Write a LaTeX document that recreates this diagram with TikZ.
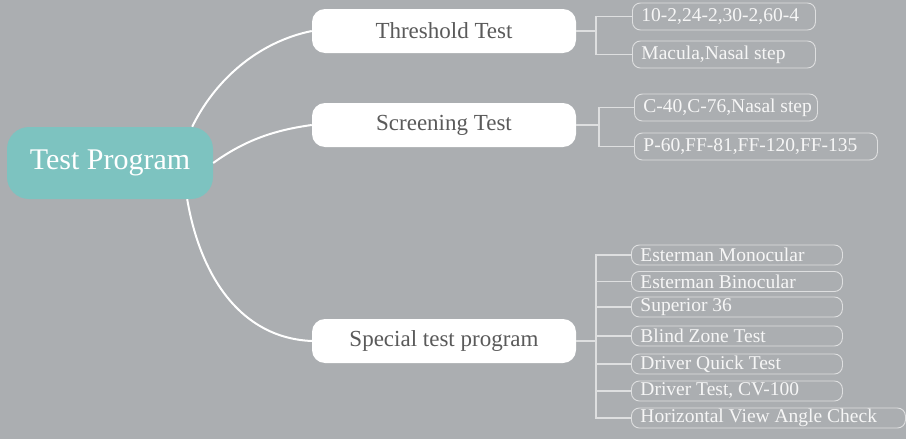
\documentclass[tikz,border=0pt]{standalone}
\usepackage{fontspec}
\setmainfont{Liberation Serif}
\usetikzlibrary{calc}
\definecolor{bg}{RGB}{171,174,177}
\definecolor{teal}{RGB}{125,195,192}
\definecolor{leafline}{RGB}{222,223,224}
\definecolor{leaftext}{RGB}{246,246,246}
\definecolor{midtext}{RGB}{90,90,90}
\newcommand{\lbx}[2]{\makebox[#1][l]{#2}}
\begin{document}
\begin{tikzpicture}[x=1pt,y=-1pt,
  rootbox/.style={fill=teal, rounded corners=22pt, minimum width=206pt, minimum height=72pt,
    inner sep=0pt, text=white, font=\fontsize{30}{30}\selectfont},
  midbox/.style={fill=white, rounded corners=13pt, minimum width=264pt, minimum height=44pt,
    inner sep=0pt, text=midtext, font=\fontsize{23}{23}\selectfont},
  leaf/.style={draw=leafline, line width=0.9pt, rounded corners=8pt, anchor=west,
    inner xsep=9pt, inner ysep=0pt, text=leaftext, font=\fontsize{19.5}{19.5}\selectfont},
  leafa/.style={leaf, minimum height=27pt},
  leafb/.style={leaf, minimum height=20pt},
  main/.style={draw=white, line width=2pt},
  br/.style={draw=leafline, line width=1.6pt}]
\fill[bg] (0,0) rectangle (906,439);
\useasboundingbox (0,0) rectangle (906,439);

\node[rootbox] (root) at (110,163) {Test Program};
\node[midbox] (thr) at (444,31) {Threshold Test};
\node[midbox] (scr) at (444,125) {Screening Test};
\node[midbox] (spc) at (444,341) {Special test program};

\draw[main] ($(root.north east)+(-21,0)$) .. controls (215,80) and (258,42) .. (thr.west);
\draw[main] (root.east) .. controls (245,140) and (275,130) .. (scr.west);
\draw[main] ($(root.south east)+(-26,0)$) .. controls (200,275) and (240,338) .. (spc.west);

\node[leafa] (t1) at (632,16.5) {\lbx{165pt}{10-2,24-2,30-2,60-4}};
\node[leafa] (t2) at (632,54.5) {\lbx{165pt}{Macula,Nasal step}};
\node[leafa] (s1) at (634,107.5) {\lbx{165pt}{C-40,C-76,Nasal step}};
\node[leafa] (s2) at (634,146.5) {\lbx{225pt}{P-60,FF-81,FF-120,FF-135}};

\node[leafb] (p1) at (631,255) {\lbx{193pt}{Esterman Monocular}};
\node[leafb] (p2) at (631,281.5) {\lbx{193pt}{Esterman Binocular}};
\node[leafb] (p3) at (631,307) {\lbx{193pt}{Superior 36}};
\node[leafb] (p4) at (631,336) {\lbx{193pt}{Blind Zone Test}};
\node[leafb] (p5) at (631,364) {\lbx{193pt}{Driver Quick Test}};
\node[leafb] (p6) at (631,391) {\lbx{193pt}{Driver Test, CV-100}};
\node[leafb] (p7) at (631,418) {\lbx{256pt}{Horizontal View Angle Check}};

\draw[br] (thr.east) -- ++(20,0) coordinate (tb);
\draw[br] (tb) |- (t1.west);
\draw[br] (tb) |- (t2.west);
\draw[br] (scr.east) -- ++(23,0) coordinate (sb);
\draw[br] (sb) |- (s1.west);
\draw[br] (sb) |- (s2.west);
\draw[br] (spc.east) -- ++(20,0) coordinate (pb);
\foreach \n in {p1,p2,p3,p4,p5,p6,p7} {\draw[br] (pb) |- (\n.west);}
\end{tikzpicture}
\end{document}
